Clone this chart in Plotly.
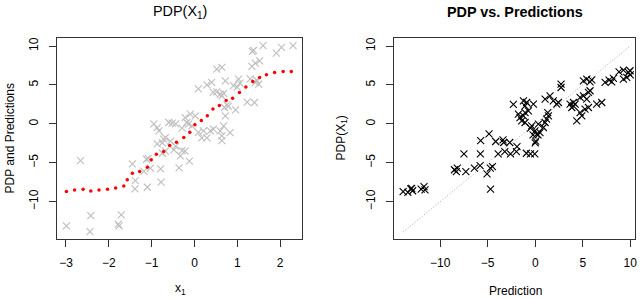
import plotly.graph_objects as go

# ---- Left panel: observed predictions (gray x) ----
x1_pts = [-2.99, -2.66, -2.42, -2.44, -1.76, -1.78, -1.71, -1.45, -1.38, -1.39,
          -1.18, -1.12, -1.08, -1.03, -1.10, -0.79, -0.78, -0.75, -0.36, -0.12,
          -0.33, -0.48, -0.29, -0.22, -0.87, -0.75, -0.72, -0.68, -0.56, -0.44,
          -0.95, -0.87, -0.83, -0.60, -0.52, -0.44, -0.68, -0.29, -0.22, -0.10,
          0.02, -0.18, -0.14, -0.06, 0.09, 0.21, 0.37, 0.44, 0.60, 0.68,
          0.83, 0.64, 0.17, 0.29, 0.64, 0.72, 0.70, 0.76, 0.79, 0.96,
          0.09, 0.29, 0.40, 0.52, 0.64, 0.72, 0.44, 0.52, 0.60, 0.68,
          0.64, 1.00, 1.03, 0.91, 1.06, 1.23, 1.40, 1.35, 1.38, 1.60,
          1.34, 1.42, 1.52, 1.30, 1.42, 1.50, 1.45, 1.91, 2.03, 2.30]
pred_pts = [-13.1, -4.72, -11.8, -13.86, -13.1, -12.9, -11.7, -5.15, -7.3, -8.37,
            -6.1, -4.55, -4.45, -5.7, -8.15, -5.8, -7.5, -3.78, -5.66, -4.8,
            -4.12, -3.35, -3.43, -3.5, -2.57, -2.45, -1.97, -3.5, -2.23, -2.87,
            0.0, -0.5, -0.9, 0.17, 0.08, 0.0, -1.76, -0.55, 0.8, 1.25,
            1.03, 0.17, -0.04, -0.26, -1.1, -0.9, -0.9, -0.68, -0.9, -0.26,
            -1.12, -1.54, -1.8, -1.8, -2.15, 1.03, 2.1, 2.45, 2.25, 1.8,
            4.5, 5.0, 5.32, 7.03, 7.25, 5.53, 4.03, 4.1, 3.8, 3.9,
            3.6, 4.72, 5.75, 4.9, 5.24, 2.79, 2.74, 9.3, 9.43, 10.04,
            7.38, 7.8, 8.1, 5.79, 5.3, 5.1, 5.6, 9.1, 9.82, 10.04]

# ---- Left panel: PDP curve (red dots) ----
pdp_grid_x = [-2.99, -2.80, -2.60, -2.42, -2.23, -2.03, -1.84, -1.65, -1.57, -1.45,
              -1.28, -1.10, -1.01, -0.89, -0.72, -0.58, -0.42, -0.25, -0.11, 0.01,
              0.16, 0.30, 0.43, 0.58, 0.74, 0.89, 1.05, 1.20, 1.36, 1.52,
              1.68, 1.87, 2.07, 2.26]
pdp_grid_y = [-8.71, -8.50, -8.40, -8.62, -8.50, -8.40, -8.24, -7.98, -7.20, -6.35,
              -6.13, -5.58, -4.63, -3.90, -3.56, -2.79, -2.36, -1.76, -1.07, -0.13,
              0.43, 1.03, 1.89, 2.36, 3.00, 3.30, 4.03, 4.72, 5.45, 5.96,
              6.30, 6.60, 6.73, 6.73]

# ---- Right panel: PDP vs predictions (black x) ----
rp_pred = [-13.9, -13.4, -13.1, -13.0, -12.9, -12.0, -11.7, -11.6,
           -8.5, -8.3, -8.2, -7.3, -6.4, -5.8, -5.07, -4.72, -4.5, -4.7,
           -7.5, -5.77, -3.9, -3.2, -2.6, -1.98, -0.93, -0.5, -0.05,
           -5.74, -4.86, -4.16, -3.39, -3.32, -2.68, -1.92, 0.0, 0.05,
           -2.3, -1.24, -1.07, -0.9, -0.19,
           -1.77, -1.6, -1.24, -1.07, -1.42, -1.07, -0.72,
           -0.37, -0.02, 0.33, 0.16, 0.5, 0.86, 1.04, 1.2, 1.39, 1.32,
           -0.5, -0.23, 0.3,
           1.04, 1.56, 1.9, 2.26, 2.44,
           2.72, 2.72,
           3.67, 4.02, 3.85, 4.2, 4.02,
           4.72, 5.07, 5.42, 5.6, 5.77, 4.72, 5.24, 5.6, 4.37, 4.9,
           5.07, 5.42, 5.77, 5.95,
           6.47, 7.0,
           7.35, 7.77, 8.05, 8.23,
           8.82, 9.28, 9.28, 9.63, 9.81, 9.98, 10.0]
rp_pdp = [-8.7, -8.8, -8.37, -8.3, -8.6, -8.4, -8.07, -8.5,
          -5.9, -6.13, -5.7, -6.13, -5.7, -5.36, -6.43, -5.7, -5.49, -8.4,
          -3.86, -3.86, -3.86, -3.56, -3.86, -3.56, -3.78, -3.86, -3.86,
          -2.15, -1.29, -2.27, -2.06, -2.4, -2.4, -2.92, -2.45, -2.23,
          2.5, 2.96, 2.3, 2.74, 2.53,
          1.25, 0.81, 1.03, 1.45, 0.39, 0.17, 1.67,
          -0.26, -0.9, -0.04, -1.33, -1.12, -0.47, 0.17, 0.6, 1.03, 1.45,
          -0.55, -1.42, -1.42,
          3.18, 3.6, 2.96, 2.53, 2.74,
          5.1, 4.67,
          2.53, 2.3, 2.1, 2.53, 2.74,
          3.39, 3.6, 3.18, 4.03, 4.25, 1.45, 1.89, 2.1, 0.39, 1.03,
          5.53, 5.75, 5.4, 5.66,
          2.53, 2.74,
          5.32, 5.62, 5.4, 5.83,
          6.69, 6.91, 5.75, 5.96, 6.6, 6.82, 6.3]

# reference line endpoints (range of predictions)
ref_line = [-13.9, 10.0]

left_xticks = [-3, -2, -1, 0, 1, 2]
y_ticks = [-10, -5, 0, 5, 10]
right_xticks = [-10, -5, 0, 5, 10]

W, H = 640, 298
FONT = "Liberation Sans, Arial, Helvetica, sans-serif"

fig = go.Figure()
fig.add_trace(go.Scatter(x=x1_pts, y=pred_pts, mode="markers",
                         marker=dict(symbol="x-thin", size=7, color="#bebebe",
                                     line=dict(width=1.1, color="#bebebe")),
                         xaxis="x", yaxis="y", showlegend=False))
fig.add_trace(go.Scatter(x=pdp_grid_x, y=pdp_grid_y, mode="markers",
                         marker=dict(symbol="circle", size=3.5, color="#ff0000"),
                         xaxis="x", yaxis="y", showlegend=False))
fig.add_trace(go.Scatter(x=ref_line, y=ref_line, mode="lines",
                         line=dict(color="#a8a8a8", width=1, dash="1px,2px"),
                         xaxis="x2", yaxis="y2", showlegend=False))
fig.add_trace(go.Scatter(x=rp_pred, y=rp_pdp, mode="markers",
                         marker=dict(symbol="x-thin", size=7, color="#000000",
                                     line=dict(width=1.1, color="#000000")),
                         xaxis="x2", yaxis="y2", showlegend=False))

ydom = [1 - 239 / H, 1 - 38 / H]
axis_common = dict(showline=True, linecolor="#333333", linewidth=1, mirror=True,
                   showgrid=False, zeroline=False, ticks="outside", ticklen=7,
                   tickwidth=1, tickcolor="#333333", automargin=False,
                   tickfont=dict(family=FONT, size=12, color="#000000"))

fig.update_layout(
    width=W, height=H, margin=dict(l=0, r=0, t=0, b=0),
    paper_bgcolor="white", plot_bgcolor="white",
    font=dict(family=FONT, color="#000000"),
    xaxis=dict(domain=[57 / W, 302 / W], range=[-3.21, 2.51], tickvals=left_xticks,
               anchor="y", ticklabelstandoff=6, **axis_common),
    yaxis=dict(domain=ydom, range=[-14.8, 11.03], tickvals=y_ticks, anchor="x",
               tickangle=-90, ticklabelstandoff=6, **axis_common),
    xaxis2=dict(domain=[394 / W, 635 / W], range=[-14.86, 10.5], tickvals=right_xticks,
                anchor="y2", ticklabelstandoff=6, **axis_common),
    yaxis2=dict(domain=ydom, range=[-14.8, 11.03], tickvals=y_ticks, anchor="x2",
                tickangle=-90, ticklabelstandoff=6, **axis_common),
)

def ann(text, px, py, size=12, angle=0, bold=False):
    fig.add_annotation(text=f"<b>{text}</b>" if bold else text,
                       x=px / W, y=1 - py / H, xref="paper", yref="paper",
                       xanchor="center", yanchor="middle", showarrow=False,
                       textangle=angle, font=dict(family=FONT, size=size, color="#000000"))

ann("PDP(X<sub>1</sub>)", 180, 12, size=14.4)
ann("PDP vs. Predictions", 515, 12, size=14.4, bold=True)
ann("x<sub>1</sub>", 180, 289)
ann("Prediction", 515, 291)
ann("PDP and Predictions", 9, 138.5, angle=-90)
ann("PDP(X<sub>1</sub>)", 341, 138.5, angle=-90)

fig.write_html("out.html",
               config={"displayModeBar": False, "staticPlot": True},
               post_script="document.body.style.margin='0';document.body.style.overflow='hidden';")
